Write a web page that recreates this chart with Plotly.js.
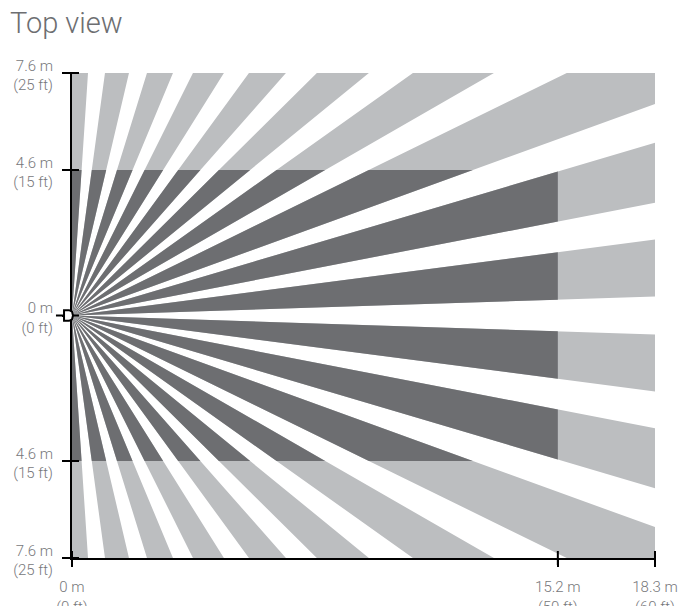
<!DOCTYPE html>
<html>
<head>
<meta charset="utf-8">
<script src="https://cdn.plot.ly/plotly-3.0.1.min.js"></script>
<style>html,body{margin:0;padding:0;background:#fff;overflow:hidden}</style>
</head>
<body>
<div id="chart" style="width:694px;height:610px"></div>
<script>
// Coverage beams: angles (degrees from the sensor's axis), mirrored about 0.
var beamOuterDeg = [90, 82.27, 72.85, 63.53, 53.93, 44.77, 35.47, 26.15, 16.53, 7.43];
var beamInnerDeg = [86.23, 76.80, 67.43, 57.98, 48.63, 39.29, 29.93, 19.98, 10.97, 1.87];

// Zone extents in feet
var longRange = {depth: 60, halfWidth: 25};
var shortRange = {depth: 50, halfWidth: 15};

// Axis ticks
var xTickFt = [0, 50, 60];
var xTickLabels = ['0 m<br>(0 ft)', '15.2 m<br>(50 ft)', '18.3 m<br>(60 ft)'];
var yTickFt = [25, 15, 0, -15, -25];
var yTickLabels = ['7.6 m<br>(25 ft)', '4.6 m<br>(15 ft)', '0 m<br>(0 ft)', '4.6 m<br>(15 ft)', '7.6 m<br>(25 ft)'];

// Sensor symbol outline, feet
var sensorX = [-1.65, -0.82, -0.82, -0.3, 0, 0.1, 0, -0.3, -0.82, -0.82];
var sensorY = [0, 0, 0.55, 0.55, 0.4, 0, -0.4, -0.55, -0.55, 0];

var lightGrey = '#bcbec0', darkGrey = '#6d6e71', textGrey = '#77787b';

function clip(poly, inside, cross) {
  var out = [];
  for (var i = 0; i < poly.length; i++) {
    var a = poly[i], b = poly[(i + 1) % poly.length];
    var ia = inside(a), ib = inside(b);
    if (ia) out.push(a);
    if (ia !== ib) out.push(cross(a, b));
  }
  return out;
}
function clipRect(poly, xMax, yMin, yMax) {
  poly = clip(poly, function (p) { return p[0] <= xMax; }, function (a, b) {
    var t = (xMax - a[0]) / (b[0] - a[0]); return [xMax, a[1] + t * (b[1] - a[1])];
  });
  poly = clip(poly, function (p) { return p[1] <= yMax; }, function (a, b) {
    var t = (yMax - a[1]) / (b[1] - a[1]); return [a[0] + t * (b[0] - a[0]), yMax];
  });
  poly = clip(poly, function (p) { return p[1] >= yMin; }, function (a, b) {
    var t = (yMin - a[1]) / (b[1] - a[1]); return [a[0] + t * (b[0] - a[0]), yMin];
  });
  return poly;
}
function beamTrace(zone, color) {
  var xs = [], ys = [];
  [1, -1].forEach(function (sign) {
    beamOuterDeg.forEach(function (outer, i) {
      var r = 1000, d = Math.PI / 180;
      var tri = [[0, 0],
        [r * Math.cos(outer * d), sign * r * Math.sin(outer * d)],
        [r * Math.cos(beamInnerDeg[i] * d), sign * r * Math.sin(beamInnerDeg[i] * d)]];
      var poly = clipRect(tri, zone.depth, -zone.halfWidth, zone.halfWidth);
      poly.forEach(function (p) { xs.push(p[0]); ys.push(p[1]); });
      xs.push(poly[0][0]); ys.push(poly[0][1]);
      xs.push(null); ys.push(null);
    });
  });
  return {x: xs, y: ys, type: 'scatter', mode: 'lines', fill: 'toself', fillcolor: color,
    line: {width: 0, color: color}, hoverinfo: 'skip', showlegend: false};
}

var data = [
  beamTrace(longRange, lightGrey),
  beamTrace(shortRange, darkGrey),
  {x: yTickFt.map(function () { return 0; }), y: yTickFt, type: 'scatter', mode: 'markers',
    marker: {symbol: 'line-ew-open', size: 10, color: '#000', line: {width: 2, color: '#000'}},
    cliponaxis: false, hoverinfo: 'skip', showlegend: false},
  {x: xTickFt, y: xTickFt.map(function () { return -25; }), type: 'scatter', mode: 'markers',
    marker: {symbol: 'line-ns-open', size: 10, color: '#000', line: {width: 2, color: '#000'}},
    cliponaxis: false, hoverinfo: 'skip', showlegend: false}
];

var xRange = [0, 60], yRange = [-25, 25];
var sensorPath = sensorX.map(function (x, i) {
  var px = (x - xRange[0]) / (xRange[1] - xRange[0]);
  var py = (sensorY[i] - yRange[0]) / (yRange[1] - yRange[0]);
  return (i === 0 ? 'M' : 'L') + px + ',' + py;
}).join(' ');

var tickFont = {family: 'Roboto, "Liberation Sans", sans-serif', size: 15, weight: 300, color: textGrey};
var layout = {
  width: 694, height: 610,
  margin: {l: 72, r: 39, t: 73, b: 52, pad: 0},
  paper_bgcolor: '#fff', plot_bgcolor: '#fff',
  title: {text: 'Top view', x: 10 / 694, xanchor: 'left', y: 1 - 23 / 610, yanchor: 'middle',
    font: {family: 'Roboto, "Liberation Sans", sans-serif', size: 29, weight: 300, color: darkGrey}},
  xaxis: {range: xRange, tickmode: 'array', tickvals: xTickFt, ticktext: xTickLabels,
    showgrid: false, zeroline: false, showline: true, linecolor: '#000', linewidth: 2,
    ticks: 'outside', ticklen: 7, tickwidth: 2, tickcolor: '#000', tickfont: tickFont, tickangle: 0, ticklabelstandoff: 7, fixedrange: true},
  yaxis: {range: yRange, tickmode: 'array', tickvals: yTickFt, ticktext: yTickLabels,
    showgrid: false, zeroline: false, showline: true, linecolor: '#000', linewidth: 2,
    ticks: 'outside', ticklen: 8, tickwidth: 2, tickcolor: '#000', tickfont: tickFont, ticklabelstandoff: 6, ticklabelshift: 2, fixedrange: true},
  shapes: [
    {type: 'rect', xref: 'paper', yref: 'paper', x0: -0.2, x1: 1.1, y0: -0.099, y1: -0.115,
      fillcolor: '#fff', line: {width: 0}, layer: 'above'},
    {type: 'path', xref: 'paper', yref: 'paper', path: sensorPath,
      fillcolor: '#fff', line: {width: 2, color: '#000'}, layer: 'above'}
  ],
  showlegend: false
};
Plotly.newPlot('chart', data, layout, {displayModeBar: false, staticPlot: true});
</script>
</body>
</html>
